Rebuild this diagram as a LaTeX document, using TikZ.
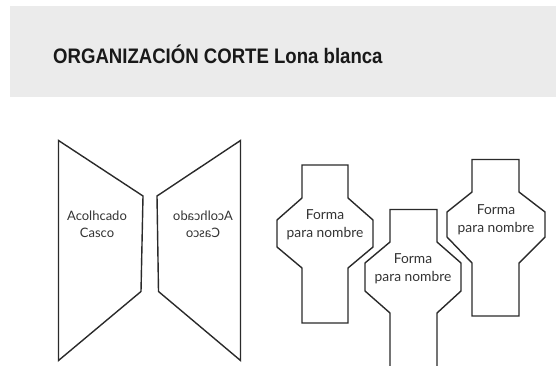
\documentclass[tikz,border=0pt]{standalone}
\usepackage{fontspec}
\setmainfont{Lato}
\newfontfamily\headfont[FakeStretch=0.885]{Liberation Sans}
\newfontfamily\shapefont{Lato}
\definecolor{headbg}{HTML}{EBEBEB}
\definecolor{linegray}{HTML}{2A2A2A}
\definecolor{textgray}{HTML}{333333}
\begin{document}
\begin{tikzpicture}[x=1pt,y=-1pt,
  piece/.style={draw=linegray,line width=1.4pt,line join=miter},
  lbl/.style={font=\shapefont\fontsize{13}{17}\selectfont,text=textgray,align=center,inner sep=0pt},
  tag/.style={font=\shapefont\fontsize{13.8}{18}\selectfont,text=textgray,align=center,inner sep=0pt}]
\useasboundingbox (0,0) rectangle (556,366);
\clip (0,0) rectangle (556,366);
% header band
\fill[headbg] (10,6) rectangle (556,97);
\node[anchor=base west,inner sep=0pt,font=\headfont\bfseries\fontsize{21}{24}\selectfont,text=black!90] (title) at (53,63.5) {ORGANIZACIÓN CORTE Lona blanca};
% left trapezoids
\draw[piece] (58.5,140.5) -- (143,196) -- (141,291.5) -- (58.5,360.5) -- cycle;
\draw[piece] (240.5,140.5) -- (157,196) -- (158.5,291.5) -- (240.5,360.5) -- cycle;
\node[lbl] (acol1) at (97,224.5) {Acolhcado\\Casco};
\node[lbl,xscale=-1,transform shape] (acol2) at (203,224.5) {Acolhcado\\Casco};
% name shapes
\draw[piece] (302,165) -- (348,165) -- (348,198) -- (373,220) -- (373,247) -- (348,268) -- (348,323) -- (302,323) -- (302,268) -- (277,247) -- (277,220) -- (302,198) -- cycle;
\draw[piece] (390,372) -- (390,313) -- (365,291) -- (365,263) -- (390,242) -- (390,209.5) -- (437,209.5) -- (437,242) -- (461,263) -- (461,291) -- (437,313) -- (437,372);
\draw[piece] (472,159.5) -- (519,159.5) -- (519,192) -- (545,212) -- (545,237) -- (519,263) -- (519,316) -- (472,316) -- (472,263) -- (447,237) -- (447,212) -- (472,192) -- cycle;
\node[tag] (forma1) at (325,225) {Forma\\para nombre};
\node[tag] (forma2) at (413,269) {Forma\\para nombre};
\node[tag] (forma3) at (496,219.5) {Forma\\para nombre};
\end{tikzpicture}
\end{document}
